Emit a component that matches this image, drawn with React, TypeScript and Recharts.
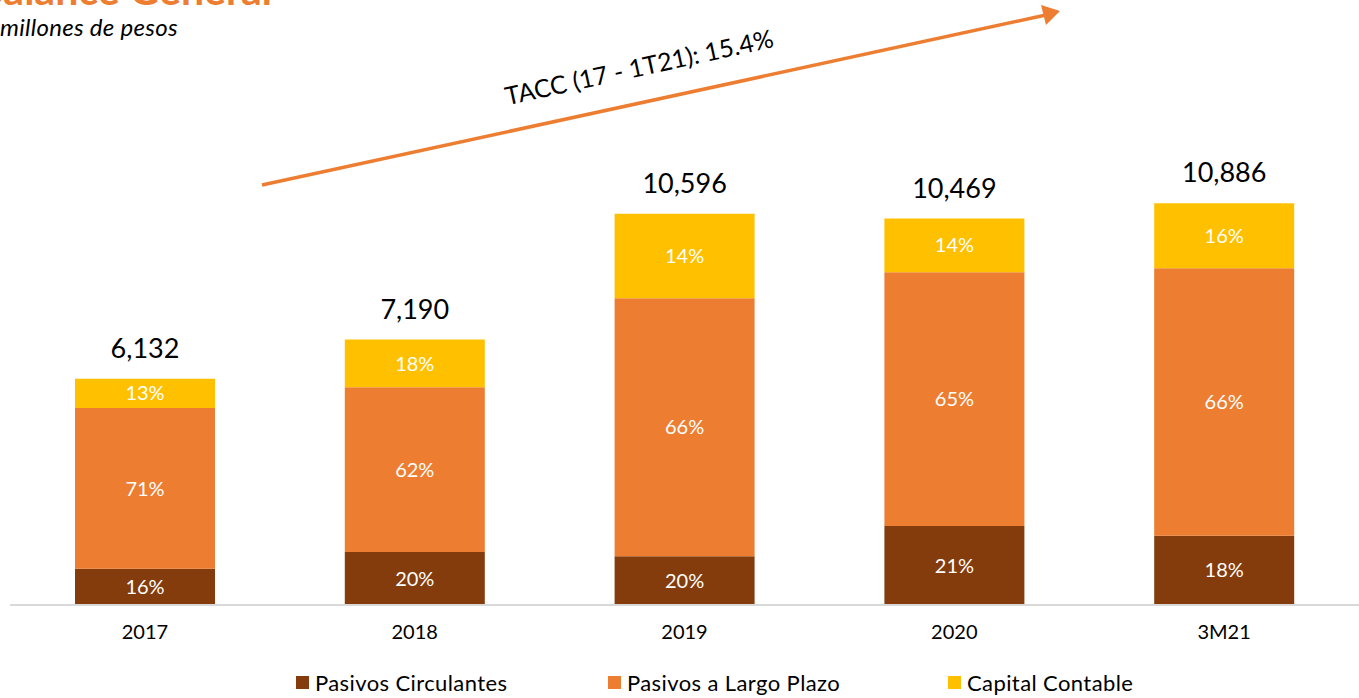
import { BarChart, Bar, XAxis, YAxis, Legend, LabelList } from "recharts";

const PC = "#843C0C";
const PLP = "#ED7D31";
const CC = "#FFC000";
const AXIS = "#D9D9D9";
const FONT = "Lato, 'Open Sans', sans-serif";

// millones de pesos
const periods = ["2017", "2018", "2019", "2020", "3M21"];
const totals = [6132, 7190, 10596, 10469, 10886];
const pasivosCirculantes = [981, 1438, 1318, 2142, 1878];
const pasivosLargoPlazo = [4354, 4458, 6991, 6874, 7246];
const capitalContable = [797, 1294, 2287, 1453, 1762];
const pctPC = ["16%", "20%", "20%", "21%", "18%"];
const pctPLP = ["71%", "62%", "66%", "65%", "66%"];
const pctCC = ["13%", "18%", "14%", "14%", "16%"];

const data = periods.map((p, i) => ({
  period: p,
  pc: pasivosCirculantes[i],
  plp: pasivosLargoPlazo[i],
  cc: capitalContable[i],
  total: totals[i],
  pcLabel: pctPC[i],
  plpLabel: pctPLP[i],
  ccLabel: pctCC[i],
}));

const legendItems = [
  { label: "Pasivos Circulantes", color: PC, width: 312 },
  { label: "Pasivos a Largo Plazo", color: PLP, width: 340 },
  { label: "Capital Contable", color: CC, width: 220 },
];

function TotalLabel(props: any) {
  const { x, y, width, value } = props;
  return (
    <text x={x + width / 2} y={y - 21} textAnchor="middle" fill="#000" fontSize={27} fontFamily={FONT}>
      {Number(value).toLocaleString("en-US")}
    </text>
  );
}

function LegendContent() {
  return (
    <div style={{ display: "flex", paddingLeft: 296, fontFamily: FONT, fontSize: 22, letterSpacing: 0.4, color: "#000" }}>
      {legendItems.map((it) => (
        <div key={it.label} style={{ display: "flex", alignItems: "center", gap: 6, width: it.width }}>
          <span style={{ width: 13, height: 13, background: it.color, display: "inline-block" }} />
          <span>{it.label}</span>
        </div>
      ))}
    </div>
  );
}

const segLabel = { fill: "#fff", fontSize: 20, fontFamily: FONT };

export default function App() {
  return (
    <div style={{ position: "fixed", left: 0, top: 0, width: 1359, height: 698, background: "#fff", fontFamily: FONT, overflow: "hidden" }}>
      <BarChart width={1359} height={698} data={data} margin={{ top: 162, right: 0, bottom: 0, left: 10 }}>
        <YAxis hide domain={[0, 12000]} />
        <XAxis
          dataKey="period"
          tickLine={false}
          axisLine={{ stroke: AXIS, strokeWidth: 2 }}
          tick={{ fill: "#000", fontSize: 20, fontFamily: FONT }}
          tickMargin={14}
          height={66}
        />
        <Legend verticalAlign="bottom" content={<LegendContent />} wrapperStyle={{ left: 0, width: 1359, bottom: 2 }} />
        <Bar dataKey="pc" stackId="a" fill={PC} barSize={140} isAnimationActive={false}>
          <LabelList dataKey="pcLabel" position="center" {...segLabel} />
        </Bar>
        <Bar dataKey="plp" stackId="a" fill={PLP} barSize={140} isAnimationActive={false}>
          <LabelList dataKey="plpLabel" position="center" {...segLabel} />
        </Bar>
        <Bar dataKey="cc" stackId="a" fill={CC} barSize={140} isAnimationActive={false}>
          <LabelList dataKey="ccLabel" position="center" {...segLabel} />
          <LabelList dataKey="total" content={<TotalLabel />} />
        </Bar>
      </BarChart>
      <svg width={1359} height={698} style={{ position: "absolute", left: 0, top: 0, pointerEvents: "none" }}>
        <text x={272} y={5} textAnchor="end" fill={PLP} fontSize={41} fontWeight={700} fontFamily={FONT}>
          Balance General
        </text>
        <text x={0} y={36} fill="#000" fontSize={24} letterSpacing={0.3} fontStyle="italic" fontFamily={FONT}>
          millones de pesos
        </text>
        <line x1={262} y1={185} x2={1046} y2={15} stroke={PLP} strokeWidth={3.5} />
        <polygon points="1060,11 1041,5 1046,25" fill={PLP} />
        <text
          x={641}
          y={76}
          textAnchor="middle"
          fill="#000"
          fontSize={25}
          fontFamily={FONT}
          transform="rotate(-12.3 641 76)"
        >
          TACC (17 - 1T21): 15.4%
        </text>
      </svg>
    </div>
  );
}
